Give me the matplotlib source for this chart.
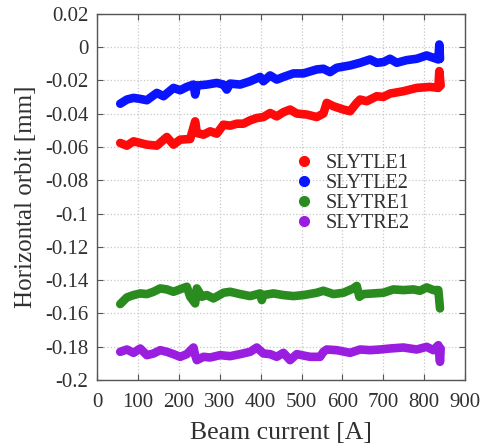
import matplotlib
matplotlib.use('Agg')
import matplotlib.pyplot as plt
from matplotlib.lines import Line2D

plt.rcParams['font.family'] = ['Liberation Serif', 'DejaVu Serif']

# beam current [A] and horizontal orbit [mm]
x_le1 = [56.3, 72.6, 88.9, 105.2, 121.5, 146, 170.4, 186.7, 203, 227.5, 239.7, 243.8,
         260.1, 276.4, 292.7, 309, 325.3, 341.6, 357.9, 374.2, 390.5, 406.8, 423.1,
         439.4, 455.7, 472, 488.3, 512.8, 537.2, 553.5, 561.7, 578, 602.5, 618.8,
         635.1, 643.2, 659.5, 684, 700.3, 716.6, 749.2, 781.8, 814.4, 834.8, 837.2, 840.5]
y_le1 = [-0.0576, -0.0592, -0.0566, -0.0576, -0.0586, -0.0592, -0.0540, -0.0586,
         -0.0556, -0.0552, -0.0446, -0.0516, -0.0526, -0.0506, -0.0520, -0.0466,
         -0.0472, -0.0460, -0.0460, -0.0440, -0.0426, -0.0420, -0.0396, -0.0416,
         -0.0391, -0.0375, -0.0399, -0.0405, -0.0420, -0.0399, -0.0335, -0.0355,
         -0.0375, -0.0385, -0.0335, -0.0315, -0.0325, -0.0295, -0.0299, -0.0279,
         -0.0265, -0.0245, -0.0239, -0.0245, -0.0144, -0.0231]

x_le2 = [56.3, 72.6, 88.9, 105, 121.5, 146, 162.2, 186.7, 203, 219.3, 235.6, 239.7,
         243.8, 268.2, 292.7, 309, 317.1, 325.3, 349.7, 374.2, 398.7, 406.8, 423.1,
         439.4, 455.7, 480.2, 504.6, 537.2, 553.5, 569.8, 586.2, 618.8, 643.2, 667.7,
         684, 700.3, 716.6, 732.9, 757.3, 781.8, 806.3, 822.6, 834.8, 837.2, 838.9]
y_le2 = [-0.0340, -0.0315, -0.0305, -0.0311, -0.0319, -0.0275, -0.0295, -0.0245,
         -0.0259, -0.0239, -0.0225, -0.0285, -0.0231, -0.0225, -0.0215, -0.0225,
         -0.0255, -0.0219, -0.0225, -0.0205, -0.0179, -0.0205, -0.0170, -0.0195,
         -0.0179, -0.0158, -0.0158, -0.0134, -0.0130, -0.0150, -0.0124, -0.0110,
         -0.0094, -0.0074, -0.0094, -0.0090, -0.0070, -0.0094, -0.0078, -0.0070,
         -0.0050, -0.0064, -0.0074, 0.0016, -0.0070]

x_re1 = [56.3, 72.6, 88.9, 105.2, 121.5, 137.8, 154.1, 170.4, 186.7, 219.3, 227.5,
         239.7, 243.8, 256, 268.2, 284.5, 309, 325.3, 349.7, 374.2, 398.7, 402.7,
         406.8, 431.3, 455.7, 480.2, 504.6, 537.2, 553.5, 578, 602.5, 626.9, 635.1,
         641.6, 651.4, 675.8, 700.3, 724.7, 749.2, 773.6, 789.9, 806.2, 822.6, 834.8, 838.9]
y_re1 = [-0.1544, -0.1504, -0.1490, -0.1480, -0.1484, -0.1470, -0.1450, -0.1456,
         -0.1470, -0.1440, -0.1500, -0.1540, -0.1450, -0.1500, -0.1490, -0.1510,
         -0.1476, -0.1470, -0.1484, -0.1496, -0.1480, -0.1520, -0.1490, -0.1480,
         -0.1490, -0.1496, -0.1490, -0.1476, -0.1464, -0.1484, -0.1476, -0.1450,
         -0.1435, -0.1500, -0.1484, -0.1480, -0.1476, -0.1456, -0.1460, -0.1456,
         -0.1464, -0.1444, -0.1460, -0.1460, -0.1570]

x_re2 = [56.3, 72.6, 88.9, 105.2, 121.5, 137.8, 154.1, 170.4, 186.7, 203, 219.3,
         235.6, 239.7, 243.8, 260.1, 276.4, 300.8, 325.3, 349.7, 374.2, 390.5, 406.8,
         423.1, 439.4, 455.7, 472, 488.3, 520.9, 545.4, 553.5, 561.7, 586.2, 618.8,
         643.2, 667.7, 692.1, 716.6, 749.2, 781.8, 806.3, 822.6, 834.8, 838.9, 840.5]
y_re2 = [-0.1831, -0.1817, -0.1837, -0.1811, -0.1851, -0.1841, -0.1821, -0.1831,
         -0.1845, -0.1861, -0.1845, -0.1805, -0.1851, -0.1881, -0.1861, -0.1865,
         -0.1851, -0.1857, -0.1845, -0.1831, -0.1805, -0.1841, -0.1845, -0.1861,
         -0.1837, -0.1881, -0.1845, -0.1861, -0.1861, -0.1831, -0.1817, -0.1821,
         -0.1837, -0.1817, -0.1821, -0.1817, -0.1811, -0.1805, -0.1817, -0.1801,
         -0.1821, -0.1791, -0.1891, -0.1811]

names = ['SLYTLE1', 'SLYTLE2', 'SLYTRE1', 'SLYTRE2']
colors = ['#ff0a0a', '#0a14ff', '#2a8c1e', '#9a1ee0']

fig = plt.figure(figsize=(4.91, 4.47), dpi=100)
ax = fig.add_axes([0.198, 0.150, 0.749, 0.819])

for xs, ys, c in zip([x_le1, x_le2, x_re1, x_re2], [y_le1, y_le2, y_re1, y_re2], colors):
    ax.plot(xs, ys, color=c, lw=6.2, solid_capstyle='round', solid_joinstyle='round')

ax.set_xlim(0, 900)
ax.set_ylim(-0.2, 0.02)
ax.set_xticks(range(0, 901, 100))
ax.set_yticks([0.02, 0, -0.02, -0.04, -0.06, -0.08, -0.1, -0.12, -0.14, -0.16, -0.18, -0.2])
ax.set_yticklabels(['0.02', '0', '-0.02', '-0.04', '-0.06', '-0.08', '-0.1', '-0.12',
                    '-0.14', '-0.16', '-0.18', '-0.2'])
ax.grid(True, ls=':', color='#c8c8c8', lw=0.9)
ax.tick_params(direction='in', top=True, right=True, length=4, width=0.8,
               labelsize=15, labelcolor='#303030', color='#555555')
ax.tick_params(axis='x', pad=9.5)
ax.tick_params(axis='y', pad=6.5)
for s in ax.spines.values():
    s.set_color('#555555')
    s.set_linewidth(1.0)

ax.set_xlabel('Beam current [A]', fontsize=18.5, color='#303030', labelpad=7)
ax.set_ylabel('Horizontal orbit [mm]', fontsize=18, color='#303030', labelpad=5.5)

handles = [Line2D([], [], ls='none', marker='o', ms=7, color=c) for c in colors]
ax.legend(handles, names, loc='upper left', bbox_to_anchor=(0.512, 0.646), frameon=False,
          fontsize=14.5, handlelength=0.8, handletextpad=0.7, labelspacing=0.05,
          borderpad=0, labelcolor='#303030')

fig.savefig('out.png', dpi=100)
